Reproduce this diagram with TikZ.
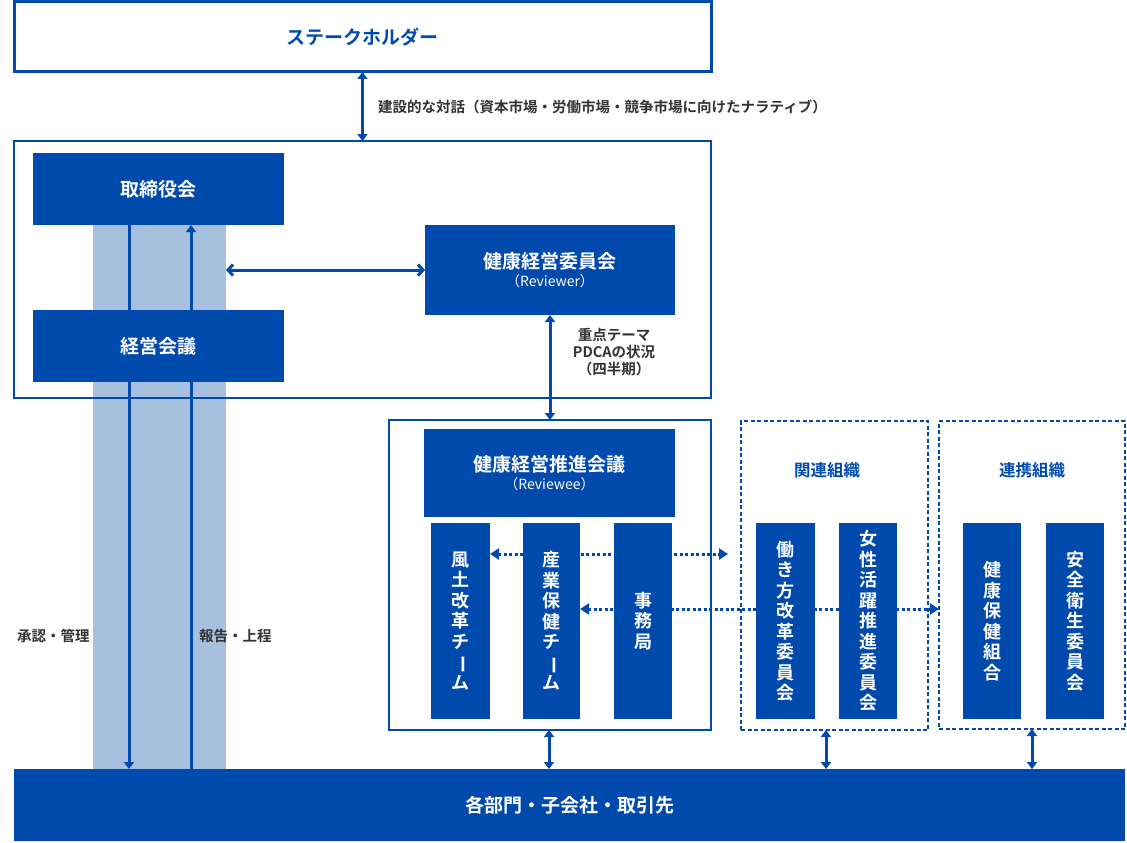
\documentclass[tikz,border=0pt]{standalone}
\usepackage{fontspec}
\setmainfont{Noto Sans CJK JP}[BoldFont={Noto Sans CJK JP Bold}]
\usepackage{tikz}
\usetikzlibrary{arrows.meta,calc}
\pgfdeclarelayer{background}
\pgfsetlayers{background,main}

\definecolor{kblue}{RGB}{0,74,173}
\definecolor{kband}{RGB}{168,192,224}
\definecolor{ktext}{RGB}{51,51,51}

\newcommand{\tatebar}{\rotatebox[origin=c]{-90}{ー}}

\tikzset{
  box/.style={fill=kblue,text=white,font=\fontsize{19}{23}\selectfont\bfseries,
    align=center,inner sep=0pt,outer sep=0pt},
  tate/.style={box,font=\fontsize{18}{20.5}\selectfont\bfseries,
    minimum width=58pt,minimum height=196pt},
  frame/.style={draw=kblue,line width=2pt,inner sep=0pt,outer sep=0pt},
  dframe/.style={frame,dash pattern=on 4pt off 2.5pt},
  dbl/.style={draw=kblue,line width=3pt,
    {Triangle[width=10pt,length=7pt]}-{Triangle[width=10pt,length=7pt]}},
  arr/.style={draw=kblue,line width=3pt,-{Triangle[width=10pt,length=7pt]}},
  barb/.style={draw=kblue,line width=3pt,
    {Straight Barb[width=11pt,length=5pt]}-{Straight Barb[width=11pt,length=5pt]}},
  dots/.style={draw=kblue,line width=3pt,dash pattern=on 3pt off 2.5pt,
    {Triangle[width=11pt,length=9pt]}-{Triangle[width=11pt,length=9pt]}},
  lbl/.style={text=ktext,font=\fontsize{14.5}{17}\selectfont\bfseries,inner sep=0pt},
  ttl/.style={text=kblue,font=\fontsize{16.5}{20}\selectfont\bfseries,inner sep=0pt}
}

\begin{document}
\begin{tikzpicture}[x=1pt,y=-1pt]
  \useasboundingbox (0,0) rectangle (1127,843);

  \begin{pgfonlayer}{background}
    \node[fill=kband,inner sep=0pt,outer sep=0pt,minimum width=133pt,minimum height=544pt] (band) at (159.5,497) {};
  \end{pgfonlayer}

  % top
  \node[frame,line width=3pt,minimum width=697pt,minimum height=70pt,text=kblue,
    font=\fontsize{19}{23}\selectfont\bfseries] (stake) at (362.5,37) {ステークホルダー};
  \node[frame,minimum width=697pt,minimum height=257pt] (gov) at (362.5,269.5) {};
  \node[box,minimum width=251pt,minimum height=72pt] (board) at (158.5,189) {取締役会};
  \node[box,minimum width=251pt,minimum height=72pt] (keiei) at (158.5,346) {経営会議};
  \node[box,minimum width=250pt,minimum height=90pt] (cmte) at (550,270)
    {健康経営委員会\\[-5pt]{\fontsize{14}{16}\selectfont\mdseries（Reviewer）}};

  % promotion
  \node[frame,minimum width=322pt,minimum height=310pt] (promo) at (550,575) {};
  \node[box,minimum width=251pt,minimum height=88pt] (meet) at (549.5,473)
    {健康経営推進会議\\[-5pt]{\fontsize{14}{16}\selectfont\mdseries（Reviewee）}};
  \node[tate,minimum width=59pt] (fudo) at (460.5,621) {風\\土\\改\\革\\チ\\\tatebar\\ム};
  \node[tate,minimum width=57pt] (sangyo) at (551.5,621) {産\\業\\保\\健\\チ\\\tatebar\\ム};
  \node[tate] (jimu) at (643,621) {事\\務\\局};

  % related
  \node[dframe,minimum width=187pt,minimum height=309pt] (kanren) at (834.5,575.5) {};
  \node[ttl] (kanrent) at (827,470) {関連組織};
  \node[tate,minimum width=59pt] (hataraki) at (785.5,621) {働\\き\\方\\改\\革\\委\\員\\会};
  \node[tate] (josei) at (868,621) {女\\性\\活\\躍\\推\\進\\委\\員\\会};

  % partner
  \node[dframe,minimum width=186pt,minimum height=308pt] (renkei) at (1032,575) {};
  \node[ttl] (renkeit) at (1032,470) {連携組織};
  \node[tate] (kenpo) at (992,621) {健\\康\\保\\健\\組\\合};
  \node[tate] (anzen) at (1075,621) {安\\全\\衛\\生\\委\\員\\会};

  \node[box,minimum width=1111pt,minimum height=72pt] (bottom) at (569.5,805) {各部門・子会社・取引先};

  % labels
  \node[lbl,anchor=west] (dialog) at (378,107) {建設的な対話（資本市場・労働市場・競争市場に向けたナラティブ）};
  \node[lbl,align=center] (theme) at (614,352) {重点テーマ\\PDCAの状況\\（四半期）};
  \node[lbl,anchor=west] (shonin) at (17,636) {承認・管理};
  \node[lbl,anchor=west] (hokoku) at (199,636) {報告・上程};

  \coordinate (k1) at (728,554);

  \begin{pgfonlayer}{background}
    \draw[arr] ([xshift=-29.5pt]board.south) -- ([xshift=-29.5pt]board.south |- bottom.north);
    \draw[arr] ([xshift=32.5pt]board.south |- bottom.north) -- ([xshift=32.5pt]board.south);
    \draw[dots] (fudo.east |- k1) -- (k1);
    \draw[dots] ([yshift=-55pt]sangyo.east |- k1) -- ([yshift=-55pt]renkei.west |- k1);
  \end{pgfonlayer}

  \draw[dbl] (stake.south) -- (gov.north);
  \draw[barb] (band.east |- cmte.west) -- (cmte.west);
  \draw[dbl] (cmte.south) -- (cmte.south |- promo.north);
  \draw[dbl] ([xshift=-1pt]promo.south) -- ([xshift=-1pt]promo.south |- bottom.north);
  \draw[dbl] ([xshift=-8.5pt]kanren.south) -- ([xshift=-8.5pt]kanren.south |- bottom.north);
  \draw[dbl] (renkei.south) -- (renkei.south |- bottom.north);
\end{tikzpicture}
\end{document}
